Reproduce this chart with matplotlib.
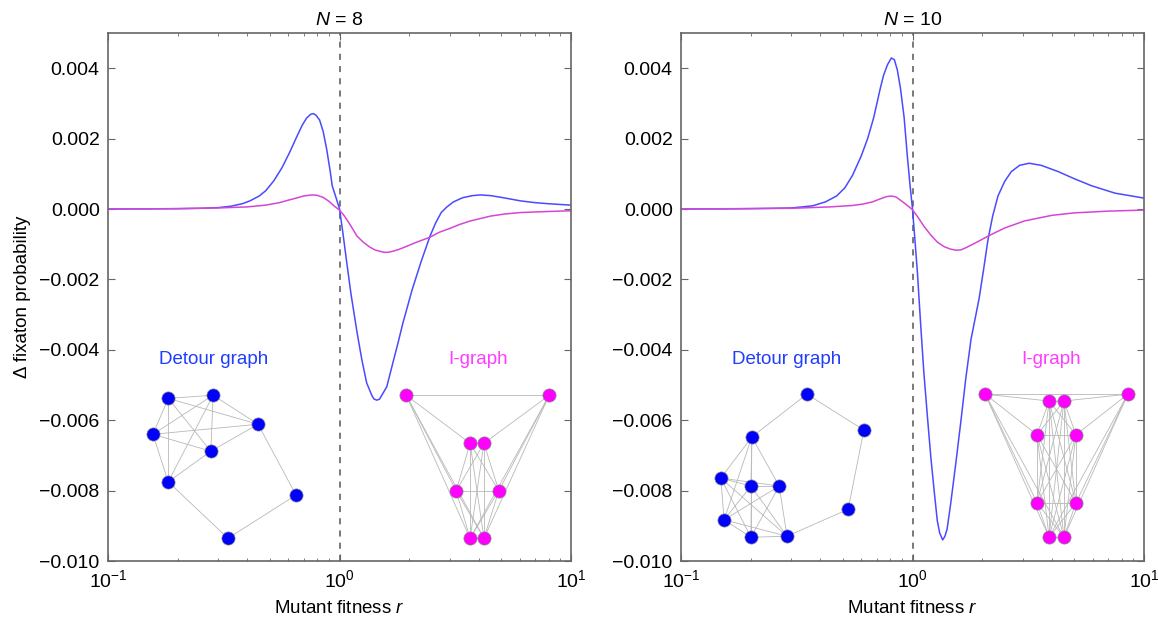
import numpy as np
import matplotlib
matplotlib.use("Agg")
import matplotlib.pyplot as plt
from matplotlib.ticker import FixedLocator, FuncFormatter, LogLocator, NullFormatter

plt.rcParams['font.family'] = ['Liberation Sans', 'DejaVu Sans']
plt.rcParams['mathtext.fontset'] = 'custom'
plt.rcParams['mathtext.rm'] = 'Liberation Sans'
plt.rcParams['mathtext.it'] = 'Liberation Sans:italic'

# ---- data ----
titles = ["$N$ = 8", "$N$ = 10"]

r8_blue = [0.1, 0.15, 0.2, 0.25, 0.3, 0.34, 0.38, 0.41, 0.45, 0.48, 0.52, 0.565, 0.61, 0.65,
           0.69, 0.72, 0.75, 0.77, 0.79, 0.82, 0.85, 0.88, 0.91, 0.93, 0.965, 1.0, 1.035,
           1.07, 1.12, 1.19, 1.25, 1.31, 1.38, 1.41, 1.45, 1.49, 1.52, 1.6, 1.7, 1.79, 1.88,
           1.97, 2.06, 2.25, 2.46, 2.6, 2.75, 2.9, 3.1, 3.4, 3.75, 4.06, 4.5, 5.0, 6.07,
           7.0, 8.0, 10.0]
d8_blue = [0.0, 0.000003, 0.00001, 0.00002, 0.00004, 0.00008, 0.00015, 0.00023, 0.00037,
           0.00052, 0.0008, 0.00118, 0.00162, 0.00202, 0.00238, 0.00258, 0.00269, 0.00271,
           0.00267, 0.00253, 0.0022, 0.0017, 0.0011, 0.00066, 0.00033, 0.0, -0.0007,
           -0.00143, -0.0024, -0.0035, -0.0043, -0.00494, -0.0053, -0.0054, -0.00543,
           -0.0054, -0.0053, -0.00505, -0.00437, -0.0038, -0.00323, -0.00275, -0.00229,
           -0.0015, -0.00077, -0.0004, -0.0001, 0.00005, 0.0002, 0.00032, 0.00038, 0.0004,
           0.00038, 0.00033, 0.00023, 0.00018, 0.00015, 0.00011]

r8_mag = [0.1, 0.2, 0.3, 0.4, 0.48, 0.55, 0.6, 0.65, 0.7, 0.76, 0.8, 0.85, 0.9, 0.95, 1.0,
          1.05, 1.1, 1.19, 1.27, 1.35, 1.42, 1.49, 1.56, 1.62, 1.7, 1.8, 1.95, 2.1, 2.46,
          2.7, 3.0, 3.3, 3.67, 4.5, 5.2, 6.07, 8.0, 10.0]
d8_mag = [0.0, 0.00001, 0.00003, 0.00006, 0.00011, 0.00018, 0.00025, 0.00031, 0.00037,
          0.0004, 0.00039, 0.00033, 0.00022, 0.00008, -0.00003, -0.0002, -0.0004, -0.00077,
          -0.00095, -0.00108, -0.00116, -0.0012, -0.00123, -0.00123, -0.0012, -0.00115,
          -0.00106, -0.00097, -0.0008, -0.00066, -0.00055, -0.00044, -0.00034, -0.0002,
          -0.00014, -0.0001, -0.00007, -0.00005]

r10_blue = [0.1, 0.15, 0.2, 0.25, 0.3, 0.37, 0.42, 0.47, 0.51, 0.55, 0.6, 0.64, 0.68, 0.726,
            0.75, 0.78, 0.81, 0.835, 0.86, 0.887, 0.92, 0.95, 0.975, 1.0, 1.025, 1.05, 1.085,
            1.12, 1.16, 1.2, 1.24, 1.28, 1.31, 1.35, 1.38, 1.41, 1.46, 1.54, 1.62, 1.7,
            1.79, 1.94, 2.03, 2.12, 2.22, 2.34, 2.5, 2.67, 2.9, 3.19, 3.6, 4.27, 5.0, 5.94,
            7.5, 10.0]
d10_blue = [0.0, 0.000003, 0.00001, 0.00002, 0.00003, 0.00009, 0.0002, 0.00037, 0.0006,
            0.00095, 0.0015, 0.002, 0.0026, 0.00343, 0.0038, 0.0041, 0.00429, 0.00424,
            0.00395, 0.00343, 0.0026, 0.0015, 0.0007, 0.0, -0.0009, -0.0018, -0.0033,
            -0.00466, -0.0059, -0.00705, -0.008, -0.00886, -0.0092, -0.0094, -0.0093,
            -0.0091, -0.0084, -0.0072, -0.006, -0.0048, -0.0037, -0.00254, -0.0017,
            -0.00086, -0.0002, 0.00037, 0.00078, 0.00106, 0.00124, 0.0013, 0.00124,
            0.00106, 0.00086, 0.00066, 0.00045, 0.00031]

r10_mag = [0.1, 0.3, 0.44, 0.55, 0.61, 0.67, 0.72, 0.77, 0.81, 0.85, 0.9, 0.95, 1.0, 1.06,
           1.12, 1.2, 1.28, 1.37, 1.46, 1.54, 1.62, 1.7, 1.9, 2.12, 2.5, 3.04, 4.0, 5.0,
           7.0, 10.0]
d10_mag = [0.0, 0.00002, 0.00006, 0.0001, 0.00014, 0.0002, 0.00028, 0.00035, 0.00037,
           0.00034, 0.00022, 0.0001, -0.00002, -0.00025, -0.00049, -0.00074, -0.00094,
           -0.00107, -0.00114, -0.00117, -0.00116, -0.0011, -0.00094, -0.00077, -0.00054,
           -0.00034, -0.00018, -0.00011, -0.00006, -0.00003]

yticks = [0.004, 0.002, 0.0, -0.002, -0.004, -0.006, -0.008, -0.010]

# graph drawings (node layout in axes fractions, edges as index pairs)
det8_nodes = [(0.13, 0.308), (0.227, 0.314), (0.324, 0.259), (0.097, 0.240),
              (0.222, 0.208), (0.130, 0.150), (0.406, 0.125), (0.259, 0.043)]
det8_edges = [(0, 1), (0, 2), (0, 3), (0, 4), (0, 5), (1, 2), (1, 3), (1, 4), (1, 5),
              (3, 2), (3, 4), (3, 5), (4, 2), (4, 5), (5, 7), (7, 6), (6, 2)]

ig8_nodes = [(0.644, 0.314), (0.953, 0.314), (0.782, 0.223), (0.812, 0.223),
             (0.752, 0.133), (0.844, 0.133), (0.782, 0.043), (0.812, 0.043)]
ig8_mid = [2, 3, 4, 5, 6, 7]
ig8_edges = [(0, 1), (0, 2), (0, 4), (0, 6), (0, 7), (1, 3), (1, 5), (1, 6), (1, 7)]
ig8_edges += [(a, b) for i, a in enumerate(ig8_mid) for b in ig8_mid[i + 1:]]

det10_nodes = [(0.272, 0.316), (0.395, 0.248), (0.153, 0.235), (0.086, 0.157),
               (0.151, 0.142), (0.212, 0.142), (0.093, 0.078), (0.361, 0.098),
               (0.151, 0.045), (0.229, 0.047)]
det10_clique = [2, 3, 4, 5, 6, 8, 9]
det10_edges = [(a, b) for i, a in enumerate(det10_clique) for b in det10_clique[i + 1:]
               if (a, b) != (2, 9)]
det10_edges += [(2, 0), (0, 1), (1, 7), (7, 9)]

ig10_nodes = [(0.657, 0.316), (0.965, 0.316), (0.795, 0.303), (0.827, 0.303),
              (0.769, 0.239), (0.853, 0.239), (0.769, 0.110), (0.853, 0.110),
              (0.795, 0.045), (0.827, 0.045)]
ig10_mid = [2, 3, 4, 5, 6, 7, 8, 9]
ig10_edges = [(0, 1), (0, 2), (0, 4), (0, 6), (0, 8), (0, 9),
              (1, 3), (1, 5), (1, 7), (1, 8), (1, 9)]
ig10_edges += [(a, b) for i, a in enumerate(ig10_mid) for b in ig10_mid[i + 1:]]

blue_line = "#4a4aff"
mag_line = "#d447d4"
blue_txt = "#1f3cff"
mag_txt = "#ff3cff"
grey = "#666666"


def draw_graph(ax, nodes, edges, color):
    for a, b in edges:
        ax.plot([nodes[a][0], nodes[b][0]], [nodes[a][1], nodes[b][1]], color="#b8b8b8",
                lw=0.6, transform=ax.transAxes, zorder=3, clip_on=False)
    xs = [p[0] for p in nodes]
    ys = [p[1] for p in nodes]
    ax.plot(xs, ys, 'o', ms=9.5, color=color, mec="#888888", mew=0.5,
            transform=ax.transAxes, zorder=4, clip_on=False)


fig = plt.figure(figsize=(11.58, 6.18), dpi=100)
ax1 = fig.add_axes([0.0933, 0.0922, 0.3998, 0.8544])
ax2 = fig.add_axes([0.5881, 0.0922, 0.3998, 0.8544])

panels = [
    (ax1, r8_blue, d8_blue, r8_mag, d8_mag, det8_nodes, det8_edges, ig8_nodes, ig8_edges),
    (ax2, r10_blue, d10_blue, r10_mag, d10_mag, det10_nodes, det10_edges, ig10_nodes, ig10_edges),
]

for k, (ax, rb, db, rm, dm, dn, de, inn, ie) in enumerate(panels):
    ax.plot(rb, db, color=blue_line, lw=1.1, zorder=2, solid_joinstyle='round')
    ax.plot(rm, dm, color=mag_line, lw=1.1, zorder=2, solid_joinstyle='round')
    ax.axvline(1.0, color="#555555", lw=1.1, ls=(0, (4, 4)), zorder=1)
    ax.set_xscale('log')
    ax.set_xlim(0.1, 10)
    ax.set_ylim(-0.010, 0.005)
    ax.yaxis.set_major_locator(FixedLocator(yticks))
    ax.yaxis.set_major_formatter(FuncFormatter(lambda v, p: ("%.3f" % v).replace('-', '\u2212')))
    ax.xaxis.set_major_locator(LogLocator(base=10, numticks=5))
    ax.xaxis.set_minor_locator(LogLocator(base=10, subs=np.arange(2, 10), numticks=20))
    ax.xaxis.set_minor_formatter(NullFormatter())
    ax.tick_params(which='both', direction='in', top=True, right=True, color=grey,
                   labelsize=14, pad=6)
    ax.tick_params(which='major', length=5, width=0.8)
    ax.tick_params(which='minor', length=2.5, width=0.6)
    for s in ax.spines.values():
        s.set_color(grey)
        s.set_linewidth(1.2)
    ax.set_title(titles[k], fontsize=14, pad=6)
    ax.set_xlabel("Mutant fitness $r$", fontsize=13.5, labelpad=6)

    ax.text(0.229, 0.381, "Detour graph", color=blue_txt, fontsize=13.5,
            ha='center', va='center', transform=ax.transAxes)
    ax.text(0.80, 0.381, "I-graph", color=mag_txt, fontsize=13.5,
            ha='center', va='center', transform=ax.transAxes)
    draw_graph(ax, dn, de, "#0000ff")
    draw_graph(ax, inn, ie, "#ff00ff")

ax1.set_ylabel("\u0394 fixaton probability", fontsize=13.5, labelpad=6)

fig.savefig("out.png", dpi=100)
